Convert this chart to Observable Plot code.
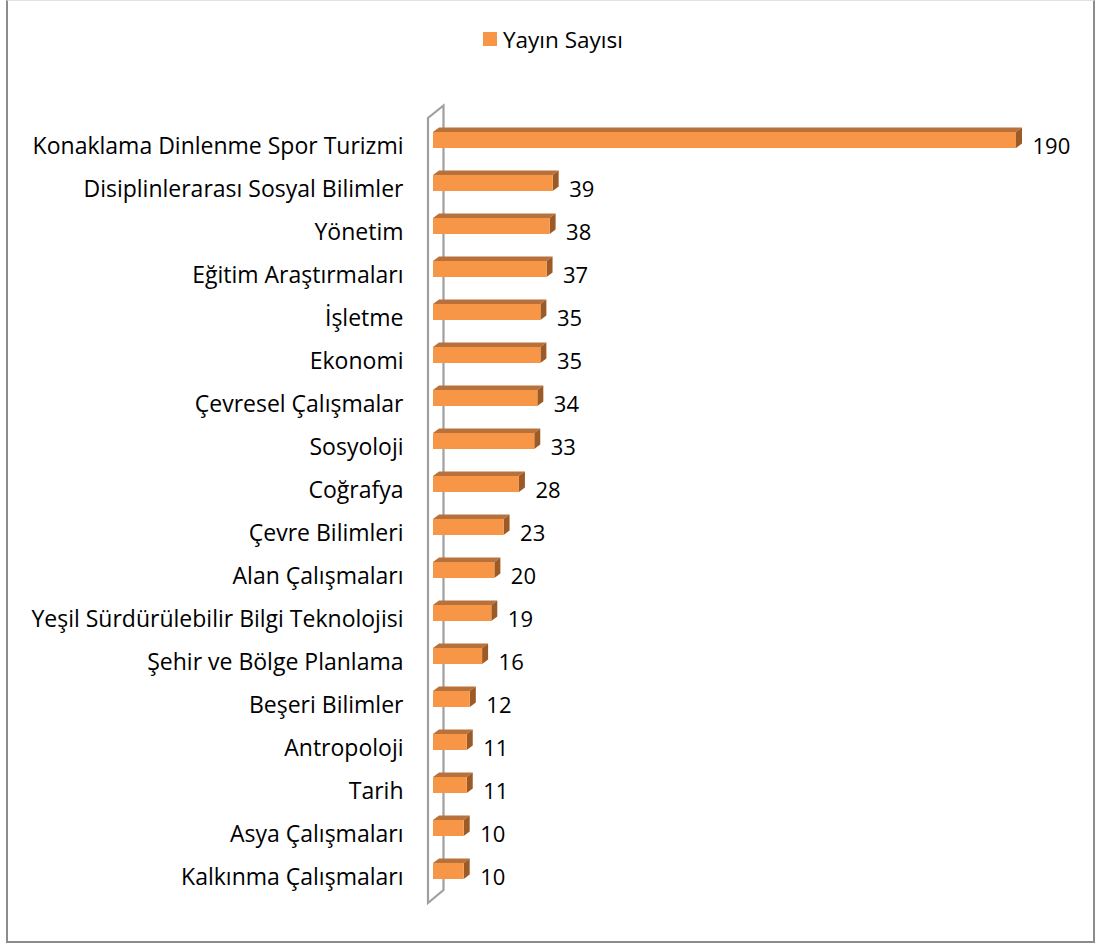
<!DOCTYPE html>
<html><head><meta charset="utf-8">
<script src="https://cdn.jsdelivr.net/npm/d3@7"></script>
<script src="https://cdn.jsdelivr.net/npm/@observablehq/plot@0.6"></script>
<style>
body{margin:0;background:#fff;font-family:"Open Sans",sans-serif;}
#wrap{position:relative;width:1099px;height:947px;overflow:hidden;}
#border{position:absolute;left:6px;top:0;width:1089px;height:943px;border:2px solid #8c8c8c;border-top:1px solid #e2e2e2;box-sizing:border-box;}
#legend{position:absolute;left:483px;top:26px;height:26px;display:flex;align-items:center;font-size:22.5px;color:#000;}
#legend .sw{width:14px;height:14px;background:#F79646;margin-right:6px;}
#chart{position:absolute;left:0;top:0;}
</style></head>
<body>
<div id="wrap">
  <div id="border"></div>
  <div id="legend"><span class="sw"></span><span id="legtext"></span></div>
  <div id="chart"></div>
</div>
<script>
const seriesName = "Yayın Sayısı";
const categories = [
  "Konaklama Dinlenme Spor Turizmi",
  "Disiplinlerarası Sosyal Bilimler",
  "Yönetim",
  "Eğitim Araştırmaları",
  "İşletme",
  "Ekonomi",
  "Çevresel Çalışmalar",
  "Sosyoloji",
  "Coğrafya",
  "Çevre Bilimleri",
  "Alan Çalışmaları",
  "Yeşil Sürdürülebilir Bilgi Teknolojisi",
  "Şehir ve Bölge Planlama",
  "Beşeri Bilimler",
  "Antropoloji",
  "Tarih",
  "Asya Çalışmaları",
  "Kalkınma Çalışmaları"
];
const values = [190, 39, 38, 37, 35, 35, 34, 33, 28, 23, 20, 19, 16, 12, 11, 11, 10, 10];

document.getElementById("legtext").textContent = seriesName;

const data = categories.map((c, i) => ({category: c, value: values[i]}));

const FRONT = "#F79646", TOP = "#B8713A", SIDE = "#9C5A26";
const DX = 6, DY = 4.5;

function bars3d(index, scales, vals, dims, ctx, next) {
  const g = next(index, scales, vals, dims, ctx);
  const rects = Array.from(g.querySelectorAll("rect"));
  for (const r of rects) {
    const x = +r.getAttribute("x"), y = +r.getAttribute("y");
    const w = +r.getAttribute("width"), h = +r.getAttribute("height");
    const top = document.createElementNS("http://www.w3.org/2000/svg", "polygon");
    top.setAttribute("points", `${x},${y} ${x+DX},${y-DY} ${x+w+DX},${y-DY} ${x+w},${y}`);
    top.setAttribute("fill", TOP);
    const side = document.createElementNS("http://www.w3.org/2000/svg", "polygon");
    side.setAttribute("points", `${x+w},${y} ${x+w+DX},${y-DY} ${x+w+DX},${y+h-DY} ${x+w},${y+h}`);
    side.setAttribute("fill", SIDE);
    r.parentNode.insertBefore(top, r);
    r.parentNode.insertBefore(side, r);
  }
  return g;
}

function wall(index, scales, vals, dims) {
  const x0 = scales.x(0);
  const t = dims.marginTop, b = dims.height - dims.marginBottom;
  const g = d3.create("svg:g");
  g.append("path")
    .attr("d", `M${x0-5},${b-1}V${t-2}L${x0+10.5},${t-14.5}V${b-14}Z`)
    .attr("fill", "none").attr("stroke", "#a0a0a0").attr("stroke-width", 2.2);
  return g.node();
}

const chart = Plot.plot({
  width: 1099,
  height: 947,
  marginLeft: 433,
  marginRight: 83,
  marginTop: 120,
  marginBottom: 43,
  style: {fontFamily: "'Open Sans', sans-serif", fontSize: "23px", background: "transparent", color: "#000", overflow: "visible"},
  x: {domain: [0, 190], axis: null},
  y: {domain: categories, padding: 0, tickSize: 0, tickPadding: 30, label: null},
  marks: [
    Plot.ruleX([0], {render: wall}),
    Plot.barX(data, {x: "value", y: "category", fill: FRONT, insetTop: 7, insetBottom: 20, render: bars3d}),
    Plot.text(data, {x: "value", y: "category", text: d => String(d.value), textAnchor: "start", dx: 16, fill: "#000", fontSize: 22})
  ]
});
document.getElementById("chart").appendChild(chart);
</script>
</body></html>
